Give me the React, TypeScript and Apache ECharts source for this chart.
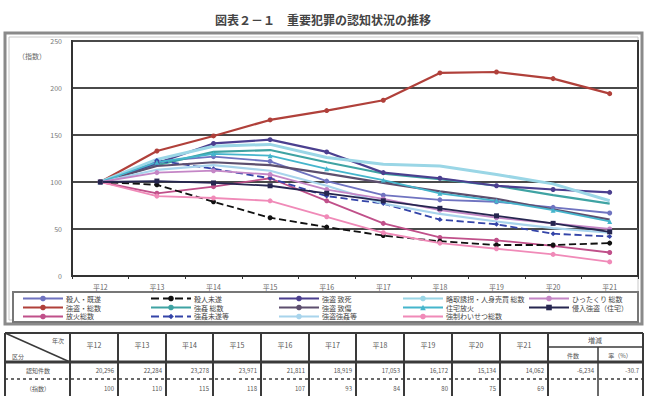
import React, { useEffect, useRef } from "react";
import * as echarts from "echarts";

// 年次（カテゴリ）
const years = ["平12", "平13", "平14", "平15", "平16", "平17", "平18", "平19", "平20", "平21"];
const yTicks = [0, 50, 100, 150, 200, 250];

// 罪種別の指数（平成12年＝100）
const murderDone = [100, 122, 127, 122, 101, 86, 81, 79, 73, 67];
const robberyTotal = [100, 133, 149, 166, 176, 187, 216, 217, 210, 194];
const arsonTotal = [100, 88, 95, 104, 80, 56, 41, 38, 32, 25];
const murderAttempt = [100, 97, 79, 62, 52, 43, 37, 33, 33, 35];
const rapeTotal = [100, 118, 132, 134, 121, 109, 103, 96, 86, 77];
const rapeAttempt = [100, 123, 114, 104, 85, 77, 60, 55, 45, 42];
const robberyDeath = [100, 120, 141, 145, 132, 110, 104, 96, 92, 89];
const robberyInjury = [100, 117, 121, 118, 109, 99, 90, 82, 71, 60];
const robberyRape = [100, 113, 118, 112, 96, 77, 66, 58, 51, 46];
const kidnapTotal = [100, 124, 138, 140, 126, 119, 117, 108, 98, 80];
const houseArson = [100, 121, 130, 128, 114, 102, 88, 80, 70, 58];
const indecentTotal = [100, 85, 83, 80, 63, 46, 35, 29, 23, 15];
const snatchTotal = [100, 110, 112, 108, 92, 82, 70, 62, 56, 50];
const burglaryRobbery = [100, 101, 99, 96, 88, 80, 72, 64, 56, 47];

// 表：重要犯罪の認知件数と指数
const tableCounts = ["20,296", "22,284", "23,278", "23,971", "21,811", "18,919", "17,053", "16,172", "15,134", "14,062"];
const tableIndex = ["100", "110", "115", "118", "107", "93", "84", "80", "75", "69"];
const tableChangeCount = "-6,234";
const tableChangeRate = "-30.7";

const FONT = "'Noto Sans CJK JP', 'Noto Sans', sans-serif";

type Def = { name: string; data: number[]; color: string; symbol: string; dashed?: boolean; width?: number };

const defs: Def[] = [
  { name: "殺人・既遂", data: murderDone, color: "#6f73c0", symbol: "circle" },
  { name: "強盗・総数", data: robberyTotal, color: "#b0403a", symbol: "circle", width: 2.2 },
  { name: "放火総数", data: arsonTotal, color: "#c0508a", symbol: "circle" },
  { name: "殺人未遂", data: murderAttempt, color: "#111111", symbol: "circle", dashed: true },
  { name: "強姦 総数", data: rapeTotal, color: "#3fa3a3", symbol: "none", width: 2.2 },
  { name: "強姦未遂等", data: rapeAttempt, color: "#3444a8", symbol: "diamond", dashed: true },
  { name: "強盗 致死", data: robberyDeath, color: "#4b3f8f", symbol: "circle", width: 2.2 },
  { name: "強盗 致傷", data: robberyInjury, color: "#5d4f6e", symbol: "none", width: 2.2 },
  { name: "強盗強姦等", data: robberyRape, color: "#a8d4ec", symbol: "none", width: 2.2 },
  { name: "略取誘拐・人身売買 総数", data: kidnapTotal, color: "#9ad6e6", symbol: "none", width: 3 },
  { name: "住宅放火", data: houseArson, color: "#45b5cc", symbol: "triangle" },
  { name: "強制わいせつ総数", data: indecentTotal, color: "#f08ab8", symbol: "circle" },
  { name: "ひったくり 総数", data: snatchTotal, color: "#c486c6", symbol: "circle" },
  { name: "侵入強盗（住宅）", data: burglaryRobbery, color: "#262650", symbol: "rect" },
];

const legendCols = [22, 150, 278, 402, 528];

// 表の列境界
const colX = [5, 70, 118, 166, 213, 261, 309, 356, 404, 452, 500, 548, 643];
const tableTop = 333;
const headBottom = 362;
const tableBottom = 400;

function tableGraphics(): any[] {
  const els: any[] = [];
  const line = (x1: number, y1: number, x2: number, y2: number, w = 2, dash?: number[]) =>
    els.push({
      type: "line",
      shape: { x1, y1, x2, y2 },
      style: { stroke: "#3a3a3a", lineWidth: w, lineDash: dash },
      silent: true,
    });
  const text = (x: number, y: number, t: string, align = "center", size = 7) =>
    els.push({
      type: "text",
      x,
      y,
      style: { text: t, fill: "#555", font: `${size}px ${FONT}`, align, verticalAlign: "middle" },
      silent: true,
    });
  els.push({ type: "rect", shape: { x: 5, y: tableTop, width: 638, height: 80 }, style: { fill: "#fff" }, silent: true });
  line(5, tableTop, 643, tableTop, 2);
  line(5, headBottom, 643, headBottom, 3);
  colX.forEach((x) => line(x, tableTop, x, tableBottom, 2));
  // 区分・年次の斜線
  line(5, tableTop, 70, headBottom, 1.5);
  text(58, 340, "年次", "center", 6);
  text(18, 356, "区分", "center", 6);
  years.forEach((y, i) => {
    const cx = (colX[i + 1] + colX[i + 2]) / 2;
    text(cx, 345, y, "center", 7);
    text(colX[i + 2] - 4, 370, tableCounts[i], "right", 6);
    text(colX[i + 2] - 4, 388, tableIndex[i], "right", 6);
  });
  // 増減欄
  line(548, 347, 643, 347, 1.5);
  line(598, 347, 598, tableBottom, 1.5);
  text(595, 340, "増減", "center", 7);
  text(573, 355, "件数", "center", 6);
  text(620, 355, "率（%）", "center", 6);
  text(594, 370, tableChangeCount, "right", 6);
  text(639, 370, tableChangeRate, "right", 6);
  text(38, 370, "認知件数", "center", 6);
  text(38, 388, "（指数）", "center", 6);
  line(5, 379, 643, 379, 1.5, [3, 3]);
  return els;
}

export default function App() {
  const ref = useRef<HTMLDivElement>(null);
  useEffect(() => {
    if (!ref.current) return;
    const chart = echarts.init(ref.current, undefined, { renderer: "svg" });
    const legends = legendCols.map((left, c) => ({
      orient: "vertical",
      left,
      top: 295,
      itemWidth: 40,
      itemHeight: 7,
      itemGap: 2,
      padding: 0,
      textStyle: { fontSize: 7, color: "#444", fontFamily: FONT, padding: [0, 0, 0, -2] },
      data: defs.filter((_, i) => Math.floor(i / 3) === c).map((d) => d.name),
      selectedMode: false,
    }));
    chart.setOption({
      animation: false,
      backgroundColor: "#fff",
      title: {
        text: "図表２－１　重要犯罪の認知状況の推移",
        left: "center",
        top: 8,
        textStyle: { fontSize: 12, fontWeight: "bold", color: "#444", fontFamily: FONT },
      },
      legend: legends,
      grid: {
        left: 72,
        right: 8,
        top: 41,
        bottom: 120,
        show: true,
        backgroundColor: "#fff",
        borderColor: "#333",
        borderWidth: 2,
      },
      xAxis: {
        type: "category",
        data: years,
        boundaryGap: true,
        axisLine: { lineStyle: { color: "#333", width: 2 } },
        axisTick: { show: true, length: 3, lineStyle: { color: "#333" } },
        axisLabel: { fontSize: 7, color: "#666", margin: 7, fontFamily: FONT },
      },
      yAxis: {
        type: "value",
        min: 0,
        max: 250,
        interval: 50,
        axisLine: { show: true, lineStyle: { color: "#333", width: 2 } },
        axisTick: { show: false },
        axisLabel: {
          fontSize: 7,
          color: "#777",
          margin: 10,
          fontFamily: FONT,
          formatter: (v: number) => (yTicks.includes(v) ? String(v) : ""),
        },
        splitLine: { lineStyle: { color: "#4a4a4a", width: 2 } },
      },
      graphic: [
        {
          type: "rect",
          shape: { x: 5, y: 33, width: 637, height: 291 },
          style: { fill: "none", stroke: "#8a8a8a", lineWidth: 3 },
          silent: true,
          z: -1,
        },
        {
          type: "rect",
          shape: { x: 9, y: 37, width: 629, height: 283 },
          style: { fill: "none", stroke: "#c8c8c8", lineWidth: 1 },
          silent: true,
          z: -1,
        },
        {
          type: "rect",
          shape: { x: 13, y: 292, width: 625, height: 30 },
          style: { fill: "#fff", stroke: "#777", lineWidth: 2 },
          silent: true,
          z: -1,
        },
        {
          type: "text",
          x: 18,
          y: 56,
          style: { text: "（指数）", fill: "#666", font: `7px ${FONT}`, verticalAlign: "middle" },
          silent: true,
        },
        ...tableGraphics(),
      ],
      series: defs.map((d) => ({
        type: "line",
        name: d.name,
        data: d.data,
        symbol: d.symbol,
        symbolSize: 5,
        showSymbol: d.symbol !== "none",
        lineStyle: { color: d.color, width: d.width ?? 1.8, type: d.dashed ? "dashed" : "solid" },
        itemStyle: { color: d.color },
        emphasis: { disabled: true },
      })),
    });
    return () => chart.dispose();
  }, []);
  return <div ref={ref} style={{ position: "fixed", left: 0, top: 0, width: 646, height: 396 }} />;
}
